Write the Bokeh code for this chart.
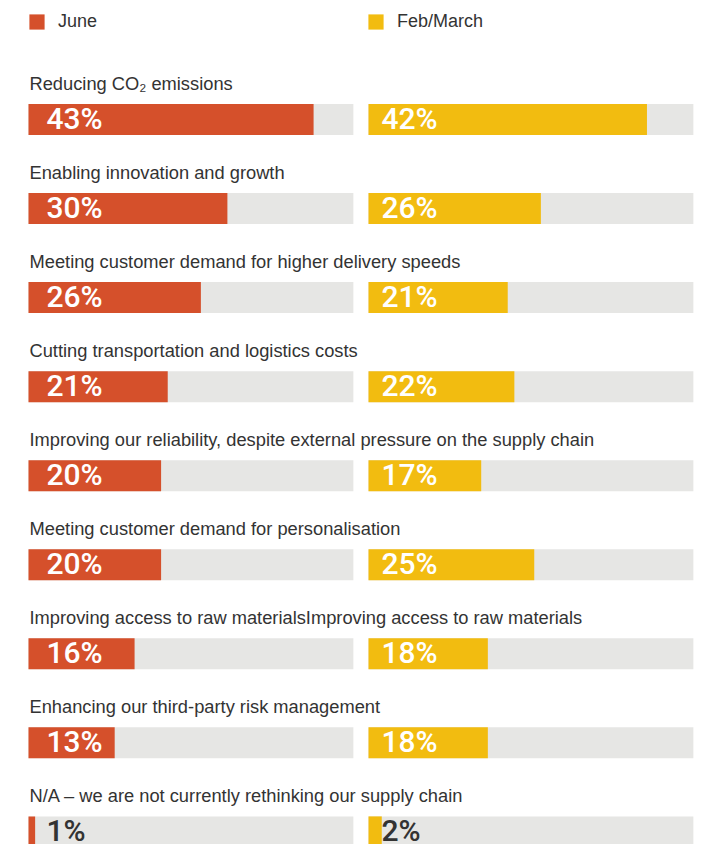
from bokeh.plotting import figure
from bokeh.models import ColumnDataSource, Range1d, Legend, LegendItem
from bokeh.embed import file_html
from bokeh.resources import INLINE
from bokeh.core.properties import value

# ---------------- data ----------------
categories = [
    "Reducing CO₂ emissions",
    "Enabling innovation and growth",
    "Meeting customer demand for higher delivery speeds",
    "Cutting transportation and logistics costs",
    "Improving our reliability, despite external pressure on the supply chain",
    "Meeting customer demand for personalisation",
    "Improving access to raw materialsImproving access to raw materials",
    "Enhancing our third-party risk management",
    "N/A – we are not currently rethinking our supply chain",
]
june = [43, 30, 26, 21, 20, 20, 16, 13, 1]
feb_march = [42, 26, 21, 22, 17, 25, 18, 18, 2]
series_names = ["June", "Feb/March"]

# ---------------- styling / layout ----------------
RED = "#D5502B"
YELLOW = "#F2BC10"
TRACK_COLOR = "#E6E6E4"
TEXT_DARK = "#333333"
W, H = 705, 844
PX_PER_PCT = 6.63
TRACK = 49.0
LEFT_START_PX = 28          # px where 0% of left block sits
RIGHT_START_PX = 368        # px where 0% of right block sits
ROW_PX = 89.05
FIRST_ROW_PX = 119.0
BAR_PX = 31

x0 = -LEFT_START_PX / PX_PER_PCT
x1 = (W - LEFT_START_PX) / PX_PER_PCT
RIGHT_OFFSET = (RIGHT_START_PX - LEFT_START_PX) / PX_PER_PCT
y_top = -FIRST_ROW_PX / ROW_PX
y_bot = (H - FIRST_ROW_PX) / ROW_PX
bar_h = BAR_PX / ROW_PX

n = len(categories)
rows = list(range(n))
LABEL_FONT = "'Liberation Sans', Arial, sans-serif"
VALUE_FONT = "'Roboto Medium', 'Open Sans SemiBold', 'Liberation Sans', sans-serif"

src = ColumnDataSource(dict(
    y=rows,
    cat=categories,
    zero=[0.0] * n,
    track=[TRACK] * n,
    june=june,
    june_lbl=[f"{v}%" for v in june],
    june_col=["white" if v >= 5 else TEXT_DARK for v in june],
    r0=[RIGHT_OFFSET] * n,
    rtrack=[RIGHT_OFFSET + TRACK] * n,
    feb=[RIGHT_OFFSET + v for v in feb_march],
    feb_lbl=[f"{v}%" for v in feb_march],
    feb_col=["white" if v >= 5 else TEXT_DARK for v in feb_march],
))

p = figure(width=W, height=H, output_backend="svg", toolbar_location=None,
           x_range=Range1d(x0, x1), y_range=Range1d(y_bot, y_top),
           min_border=0, min_border_left=0, min_border_right=0,
           min_border_top=0, min_border_bottom=0)
p.axis.visible = False
p.grid.visible = False
p.outline_line_color = None
p.background_fill_color = "white"
p.border_fill_color = "white"

# tracks
p.hbar(y="y", left="zero", right="track", height=bar_h, source=src,
       fill_color=TRACK_COLOR, line_color=None)
p.hbar(y="y", left="r0", right="rtrack", height=bar_h, source=src,
       fill_color=TRACK_COLOR, line_color=None)
# value bars
r_june = p.hbar(y="y", left="zero", right="june", height=bar_h, source=src,
                fill_color=RED, line_color=None)
r_feb = p.hbar(y="y", left="r0", right="feb", height=bar_h, source=src,
               fill_color=YELLOW, line_color=None)

# category labels
p.text(x="zero", y="y", text="cat", source=src, x_offset=1, y_offset=-36,
       text_baseline="alphabetic", text_align="left",
       text_font=value(LABEL_FONT), text_font_size="18.3px", text_color=TEXT_DARK)

# value labels
p.text(x="zero", y="y", text="june_lbl", source=src, x_offset=18, y_offset=-1,
       text_baseline="middle", text_align="left", text_color="june_col",
       text_font=value(VALUE_FONT), text_font_size="30px")
p.text(x="r0", y="y", text="feb_lbl", source=src, x_offset=13, y_offset=-1,
       text_baseline="middle", text_align="left", text_color="feb_col",
       text_font=value(VALUE_FONT), text_font_size="30px")

legend = Legend(items=[LegendItem(label=series_names[0], renderers=[r_june]),
                       LegendItem(label=series_names[1], renderers=[r_feb])],
                orientation="horizontal", location=(27, H - 31.5),
                glyph_width=19, glyph_height=19, label_height=19,
                label_width=300, label_standoff=12, spacing=8,
                padding=0, margin=0, border_line_color=None,
                background_fill_alpha=0,
                label_text_font=LABEL_FONT, label_text_font_size="18px",
                label_text_color=TEXT_DARK, label_text_baseline="middle")
p.add_layout(legend)

open("out.html", "w").write(file_html(p, INLINE))
